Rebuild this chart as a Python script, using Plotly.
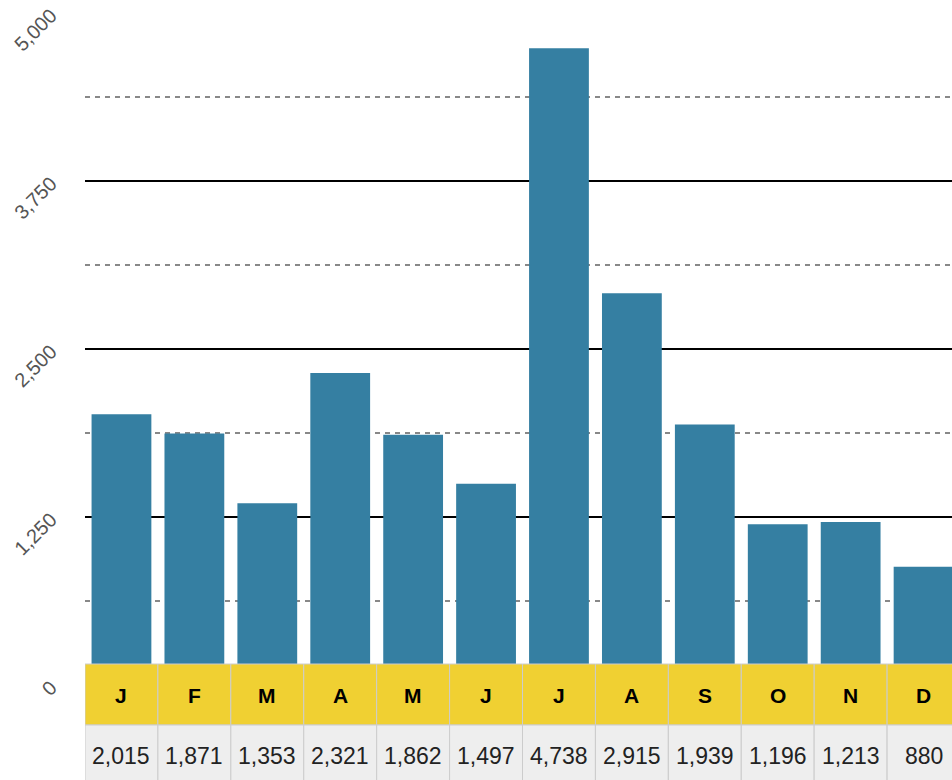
import plotly.graph_objects as go

months = ["J", "F", "M", "A", "M", "J", "J", "A", "S", "O", "N", "D"]
values = [2015, 1871, 1353, 2321, 1862, 1497, 4738, 2915, 1939, 1196, 1213, 880]
y_ticks = [0, 1250, 2500, 3750, 5000]

xs = list(range(len(months)))

fig = go.Figure()
fig.add_trace(go.Bar(x=xs, y=values, marker=dict(color="#357fa2", line=dict(width=0)),
                     hoverinfo="y"))

FONT = "Liberation Sans, Arial, Helvetica, sans-serif"
# table rows in paper coordinates
plot_h = 672.0
y_top = (685 - 664) / plot_h
y_mid = (685 - 725) / plot_h
y_bot = (685 - 800) / plot_h

shapes = []
annotations = []
for i, (m, v) in enumerate(zip(months, values)):
    shapes.append(dict(type="rect", xref="x", yref="paper", x0=i - 0.5, x1=i + 0.5,
                       y0=y_mid, y1=y_top, fillcolor="#f0d032",
                       line=dict(color="#cccccc", width=1), layer="above"))
    shapes.append(dict(type="rect", xref="x", yref="paper", x0=i - 0.5, x1=i + 0.5,
                       y0=y_bot, y1=y_mid, fillcolor="#eeeeee",
                       line=dict(color="#cccccc", width=1), layer="above"))
    annotations.append(dict(x=i, y=(685 - 695) / plot_h, xref="x", yref="paper",
                            yanchor="middle", xanchor="center",
                            text="<b>%s</b>" % m, showarrow=False,
                            font=dict(family=FONT, size=21, color="#000000")))
    annotations.append(dict(x=i, y=(685 - 756) / plot_h, xref="x", yref="paper",
                            yanchor="middle", xanchor="center",
                            text="{:,}".format(v), showarrow=False,
                            font=dict(family=FONT, size=23, color="#222222")))

fig.update_layout(
    width=952, height=780,
    margin=dict(l=85, r=0, t=13, b=95),
    plot_bgcolor="white", paper_bgcolor="white",
    showlegend=False,
    bargap=0.18,
    shapes=shapes,
    annotations=annotations,
    xaxis=dict(range=[-0.5, 11.39], visible=False, showgrid=False, zeroline=False,
               fixedrange=True),
    yaxis=dict(range=[0, 5000], tickvals=y_ticks, tickformat=",", tickangle=-45,
               showgrid=True, gridcolor="#000000", gridwidth=2, zeroline=False,
               showline=False, ticks="", ticklabelstandoff=33,
               tickfont=dict(family=FONT, size=20, color="#555555"),
               minor=dict(dtick=625, tick0=0, showgrid=True, gridcolor="#888888",
                          gridwidth=2, griddash="5px,5px"),
               fixedrange=True),
)

fig.write_html("out.html", config={"displayModeBar": False},
               post_script="document.body.style.margin='0';document.body.style.overflow='hidden';")
